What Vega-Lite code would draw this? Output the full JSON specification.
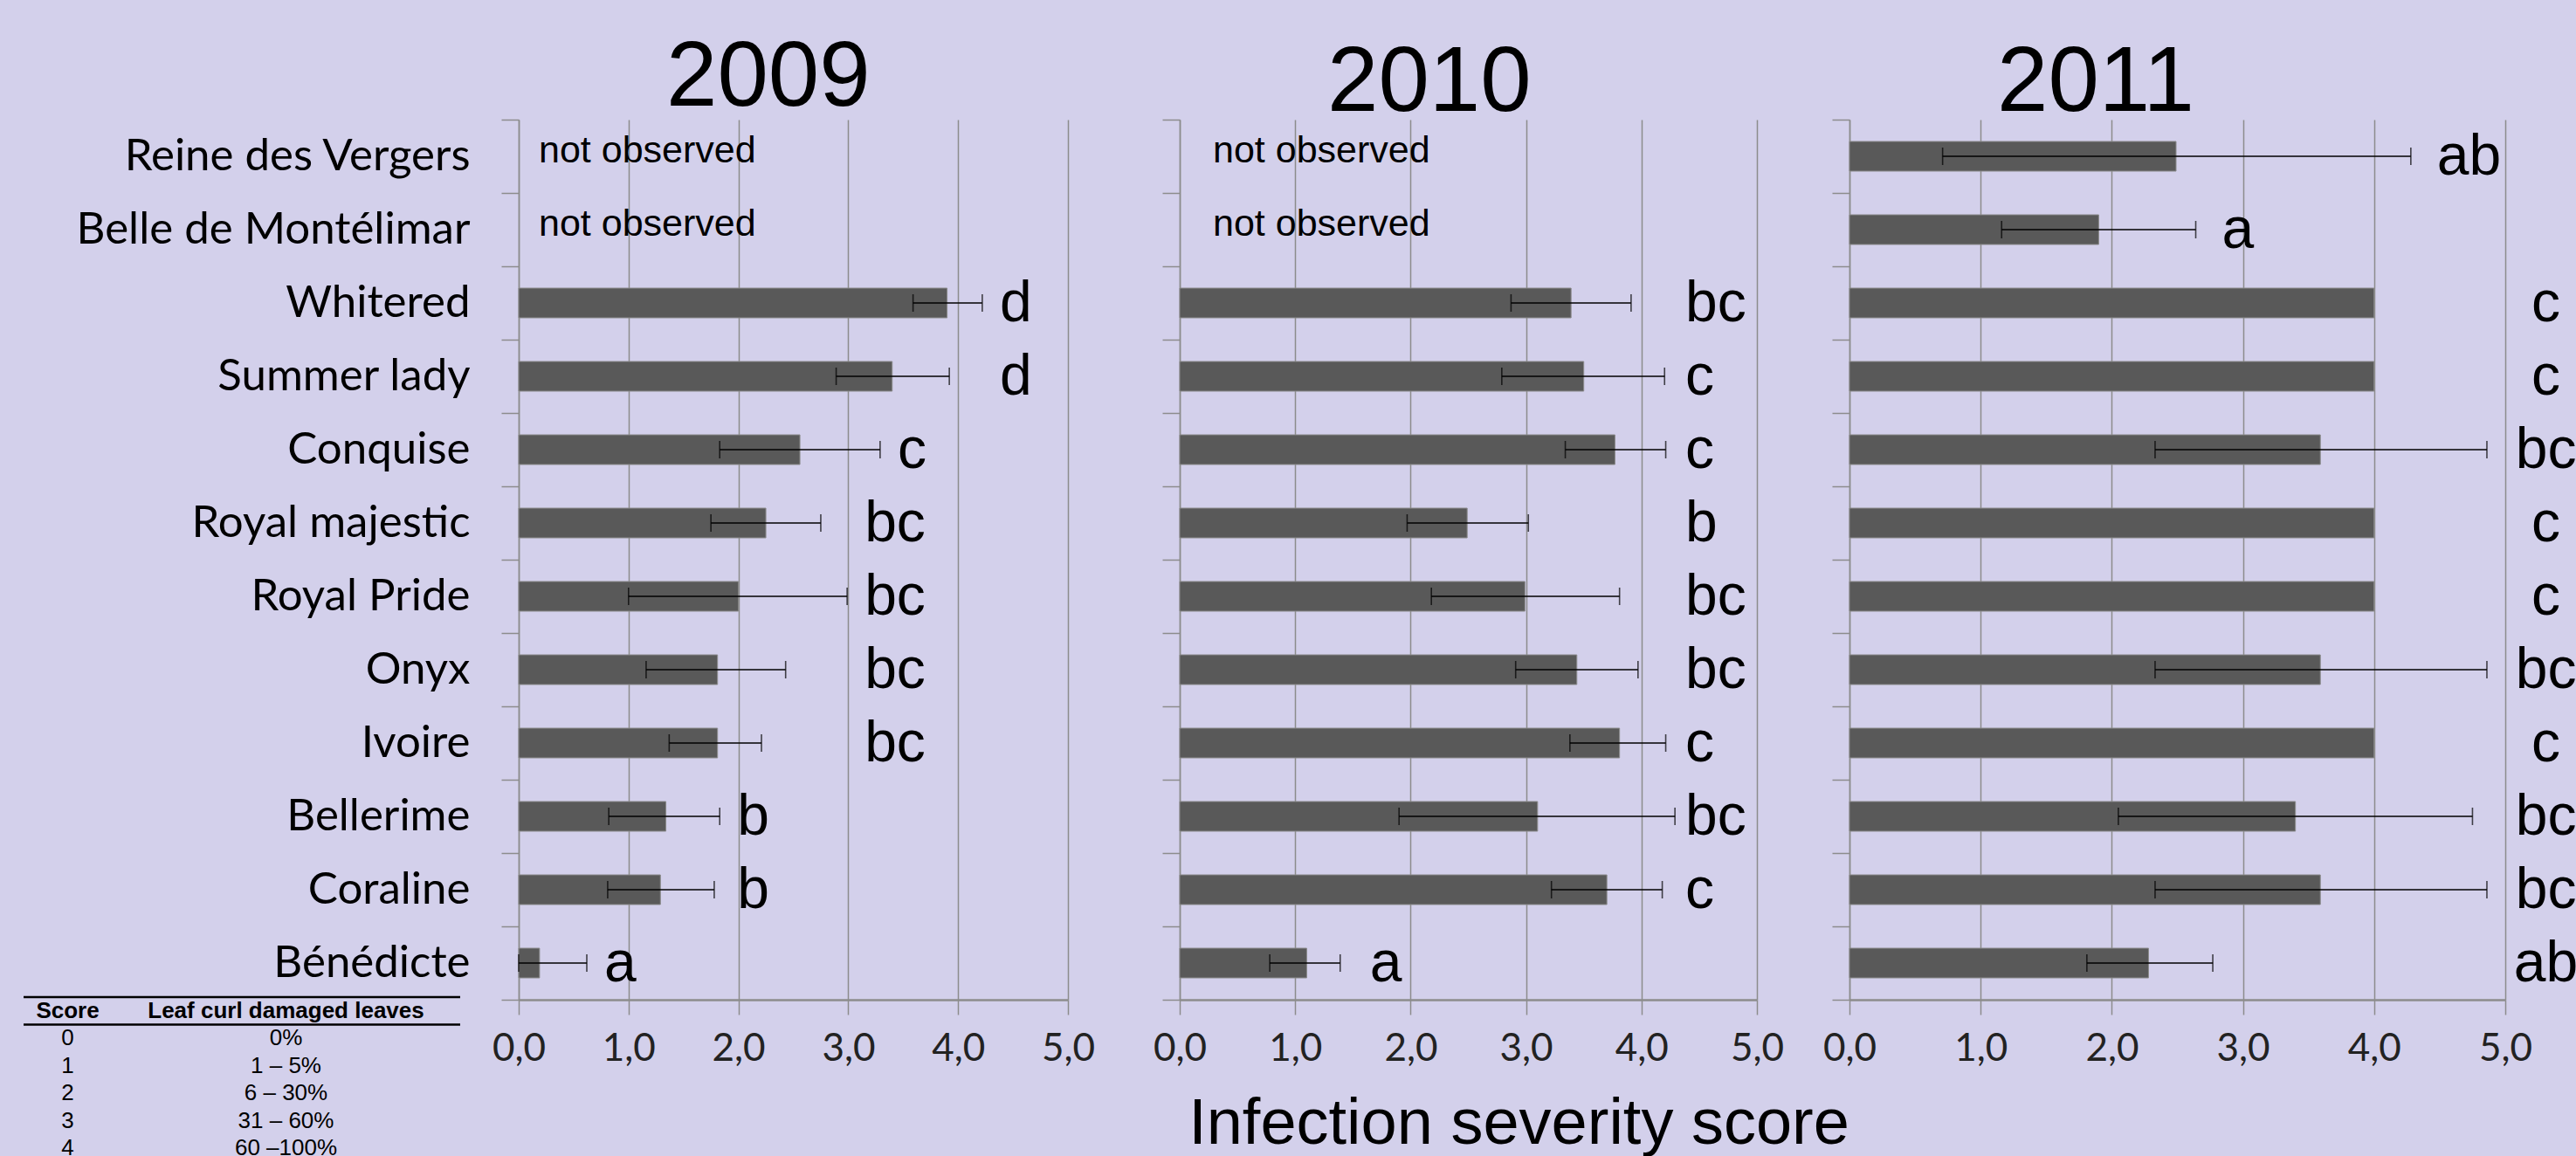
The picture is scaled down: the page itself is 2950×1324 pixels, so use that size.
{
  "$schema": "https://vega.github.io/schema/vega-lite/v6.json",
  "background": "#D3D0EB",
  "padding": {"left": 25, "top": 37, "right": 30, "bottom": 0},
  "autosize": {"type": "pad"},
  "bounds": "flush",
  "spacing": 67,
  "datasets": {
    "d": [
      {"year": 2009, "variety": "Reine des Vergers", "note": "not observed"},
      {"year": 2009, "variety": "Belle de Montélimar", "note": "not observed"},
      {"year": 2009, "variety": "Whitered", "mean": 3.90, "lo": 3.59, "hi": 4.22, "letter": "d"},
      {"year": 2009, "variety": "Summer lady", "mean": 3.40, "lo": 2.89, "hi": 3.92, "letter": "d"},
      {"year": 2009, "variety": "Conquise", "mean": 2.56, "lo": 1.83, "hi": 3.29, "letter": "c"},
      {"year": 2009, "variety": "Royal majestic", "mean": 2.25, "lo": 1.75, "hi": 2.75, "letter": "bc"},
      {"year": 2009, "variety": "Royal Pride", "mean": 2.00, "lo": 1.00, "hi": 2.99, "letter": "bc"},
      {"year": 2009, "variety": "Onyx", "mean": 1.81, "lo": 1.16, "hi": 2.43, "letter": "bc"},
      {"year": 2009, "variety": "Ivoire", "mean": 1.81, "lo": 1.37, "hi": 2.21, "letter": "bc"},
      {"year": 2009, "variety": "Bellerime", "mean": 1.34, "lo": 0.82, "hi": 1.83, "letter": "b"},
      {"year": 2009, "variety": "Coraline", "mean": 1.29, "lo": 0.81, "hi": 1.78, "letter": "b"},
      {"year": 2009, "variety": "Bénédicte", "mean": 0.19, "lo": 0.0, "hi": 0.62, "letter": "a"},
      {"year": 2010, "variety": "Reine des Vergers", "note": "not observed"},
      {"year": 2010, "variety": "Belle de Montélimar", "note": "not observed"},
      {"year": 2010, "variety": "Whitered", "mean": 3.39, "lo": 2.87, "hi": 3.91, "letter": "bc"},
      {"year": 2010, "variety": "Summer lady", "mean": 3.50, "lo": 2.79, "hi": 4.20, "letter": "c"},
      {"year": 2010, "variety": "Conquise", "mean": 3.77, "lo": 3.34, "hi": 4.21, "letter": "c"},
      {"year": 2010, "variety": "Royal majestic", "mean": 2.49, "lo": 1.97, "hi": 3.02, "letter": "b"},
      {"year": 2010, "variety": "Royal Pride", "mean": 2.99, "lo": 2.18, "hi": 3.81, "letter": "bc"},
      {"year": 2010, "variety": "Onyx", "mean": 3.44, "lo": 2.91, "hi": 3.97, "letter": "bc"},
      {"year": 2010, "variety": "Ivoire", "mean": 3.81, "lo": 3.38, "hi": 4.21, "letter": "c"},
      {"year": 2010, "variety": "Bellerime", "mean": 3.10, "lo": 1.90, "hi": 4.29, "letter": "bc"},
      {"year": 2010, "variety": "Coraline", "mean": 3.70, "lo": 3.22, "hi": 4.18, "letter": "c"},
      {"year": 2010, "variety": "Bénédicte", "mean": 1.10, "lo": 0.78, "hi": 1.39, "letter": "a"},
      {"year": 2011, "variety": "Reine des Vergers", "mean": 2.49, "lo": 0.71, "hi": 4.28, "letter": "ab"},
      {"year": 2011, "variety": "Belle de Montélimar", "mean": 1.90, "lo": 1.16, "hi": 2.64, "letter": "a"},
      {"year": 2011, "variety": "Whitered", "mean": 4.00, "letter": "c"},
      {"year": 2011, "variety": "Summer lady", "mean": 4.00, "letter": "c"},
      {"year": 2011, "variety": "Conquise", "mean": 3.59, "lo": 2.33, "hi": 4.86, "letter": "bc"},
      {"year": 2011, "variety": "Royal majestic", "mean": 4.00, "letter": "c"},
      {"year": 2011, "variety": "Royal Pride", "mean": 4.00, "letter": "c"},
      {"year": 2011, "variety": "Onyx", "mean": 3.59, "lo": 2.33, "hi": 4.86, "letter": "bc"},
      {"year": 2011, "variety": "Ivoire", "mean": 4.00, "letter": "c"},
      {"year": 2011, "variety": "Bellerime", "mean": 3.40, "lo": 2.05, "hi": 4.75, "letter": "bc"},
      {"year": 2011, "variety": "Coraline", "mean": 3.59, "lo": 2.33, "hi": 4.86, "letter": "bc"},
      {"year": 2011, "variety": "Bénédicte", "mean": 2.28, "lo": 1.81, "hi": 2.77, "letter": "ab"}
    ],
    "t": [
      {"row": "h", "c1": "Score", "c2": "Leaf curl damaged leaves"},
      {"row": "0", "c1": "0", "c2": "0%"},
      {"row": "1", "c1": "1", "c2": "1 – 5%"},
      {"row": "2", "c1": "2", "c2": "6 – 30%"},
      {"row": "3", "c1": "3", "c2": "31 – 60%"},
      {"row": "4", "c1": "4", "c2": "60 –100%"}
    ]
  },
  "data": {"name": "d"},
  "hconcat": [
    {
      "width": 500,
      "height": 1008,
      "data": {"name": "t"},
      "encoding": {
        "y": {"field": "row", "type": "nominal", "scale": {"type": "band", "domain": ["h", "0", "1", "2", "3", "4"], "range": [1005, 1194], "paddingInner": 0, "paddingOuter": 0}, "axis": null}
      },
      "layer": [
        {
          "transform": [{"filter": "datum.row == 'h' || datum.row == '0'"}],
          "mark": {"type": "rule", "color": "#000000", "strokeWidth": 2.5},
          "encoding": {"y": {"field": "row", "type": "nominal", "bandPosition": 0, "scale": {"type": "band", "domain": ["h", "0", "1", "2", "3", "4"], "range": [1005, 1194], "paddingInner": 0, "paddingOuter": 0}, "axis": null}}
        },
        {
          "transform": [{"filter": "datum.row == 'h'"}],
          "mark": {"type": "text", "font": "Liberation Sans", "fontSize": 26, "fontWeight": "bold", "baseline": "middle", "color": "#000000"},
          "encoding": {
            "x": {"datum": "Score", "type": "nominal", "scale": {"type": "point", "domain": ["Score", "Leaf curl damaged leaves"], "range": [50.5, 300.5], "padding": 0}, "axis": null},
            "text": {"field": "c1"}
          }
        },
        {
          "transform": [{"filter": "datum.row == 'h'"}],
          "mark": {"type": "text", "font": "Liberation Sans", "fontSize": 26, "fontWeight": "bold", "baseline": "middle", "color": "#000000"},
          "encoding": {
            "x": {"datum": "Leaf curl damaged leaves", "type": "nominal", "scale": {"type": "point", "domain": ["Score", "Leaf curl damaged leaves"], "range": [50.5, 300.5], "padding": 0}, "axis": null},
            "text": {"field": "c2"}
          }
        },
        {
          "transform": [{"filter": "datum.row != 'h'"}],
          "mark": {"type": "text", "font": "Liberation Sans", "fontSize": 26, "baseline": "middle", "color": "#000000"},
          "encoding": {
            "x": {"datum": "Score", "type": "nominal", "scale": {"type": "point", "domain": ["Score", "Leaf curl damaged leaves"], "range": [50.5, 300.5], "padding": 0}, "axis": null},
            "text": {"field": "c1"}
          }
        },
        {
          "transform": [{"filter": "datum.row != 'h'"}],
          "mark": {"type": "text", "font": "Liberation Sans", "fontSize": 26, "baseline": "middle", "color": "#000000"},
          "encoding": {
            "x": {"datum": "Leaf curl damaged leaves", "type": "nominal", "scale": {"type": "point", "domain": ["Score", "Leaf curl damaged leaves"], "range": [50.5, 300.5], "padding": 0}, "axis": null},
            "text": {"field": "c2"}
          }
        }
      ]
    },
    {
      "width": 690,
      "height": 1008,
      "transform": [{"filter": "datum.year == 2009"}],
      "title": {"text": "2009", "anchor": "start", "frame": "group", "dx": 169, "offset": -115, "baseline": "alphabetic", "fontSize": 105, "font": "Liberation Sans", "fontWeight": "normal", "color": "#000000"},
      "encoding": {
        "y": {"field": "variety", "type": "nominal", "sort": ["Reine des Vergers", "Belle de Montélimar", "Whitered", "Summer lady", "Conquise", "Royal majestic", "Royal Pride", "Onyx", "Ivoire", "Bellerime", "Coraline", "Bénédicte"],
          "scale": {"domain": ["Reine des Vergers", "Belle de Montélimar", "Whitered", "Summer lady", "Conquise", "Royal majestic", "Royal Pride", "Onyx", "Ivoire", "Bellerime", "Coraline", "Bénédicte"], "paddingInner": 0, "paddingOuter": 0},
          "axis": {"title": null, "labels": true, "labelLimit": 0, "labelFont": "Lato", "labelFontSize": 51, "labelColor": "#000000", "labelPadding": 36, "tickSize": 20, "tickBand": "extent", "tickColor": "#8C8C8C", "tickWidth": 1.5, "domainColor": "#8C8C8C", "domainWidth": 1.5, "grid": false}}
      },
      "layer": [
        {
          "mark": {"type": "bar", "size": 34, "color": "#595959", "stroke": "#8A8A8A", "strokeWidth": 1},
          "encoding": {
            "x": {"field": "mean", "type": "quantitative", "scale": {"domain": [0, 5], "range": [0, 629]},
              "axis": {"title": null, "values": [0, 1, 2, 3, 4, 5], "labelExpr": "replace(format(datum.value, '.1f'), '.', ',')", "grid": true, "gridColor": "#8C8C8C", "gridWidth": 1.5, "domainColor": "#8C8C8C", "domainWidth": 2.5, "tickColor": "#8C8C8C", "tickSize": 17, "tickWidth": 1.5, "labelFont": "Lato", "labelFontSize": 44, "labelColor": "#222222", "labelPadding": 17, "labelFlush": false, "labelOverlap": false}}
          }
        },
        {
          "mark": {"type": "rule", "color": "#000000", "strokeWidth": 1.6},
          "encoding": {
            "x": {"field": "lo", "type": "quantitative", "scale": {"domain": [0, 5], "range": [0, 629]}},
            "x2": {"field": "hi"}
          }
        },
        {
          "mark": {"type": "tick", "color": "#000000", "size": 20, "thickness": 1.6},
          "encoding": {"x": {"field": "lo", "type": "quantitative", "scale": {"domain": [0, 5], "range": [0, 629]}}}
        },
        {
          "mark": {"type": "tick", "color": "#000000", "size": 20, "thickness": 1.6},
          "encoding": {"x": {"field": "hi", "type": "quantitative", "scale": {"domain": [0, 5], "range": [0, 629]}}}
        },
        {
          "transform": [{"filter": "isValid(datum.note)"}],
          "mark": {"type": "text", "align": "left", "baseline": "alphabetic", "dx": 23, "dy": 7, "font": "Liberation Sans", "fontSize": 43, "color": "#000000"},
          "encoding": {
            "x": {"datum": 0, "type": "quantitative", "scale": {"domain": [0, 5], "range": [0, 629]}},
            "text": {"field": "note"}
          }
        },
        {
          "transform": [
            {"filter": "isValid(datum.letter)"},
            {"joinaggregate": [{"op": "max", "field": "hi", "as": "group_hi"}], "groupby": ["letter"]}
          ],
          "mark": {"type": "text", "align": "left", "baseline": "alphabetic", "dx": 20, "dy": 21, "font": "Liberation Sans", "fontSize": 66, "color": "#000000"},
          "encoding": {
            "x": {"field": "group_hi", "type": "quantitative", "scale": {"domain": [0, 5], "range": [0, 629]}},
            "text": {"field": "letter"}
          }
        }
      ]
    },
    {
      "width": 700,
      "height": 1008,
      "transform": [{"filter": "datum.year == 2010"}],
      "title": {"text": "2010", "anchor": "start", "frame": "group", "dx": 169, "offset": -96, "baseline": "alphabetic", "fontSize": 105, "font": "Liberation Sans", "fontWeight": "normal", "color": "#000000"},
      "encoding": {
        "y": {"field": "variety", "type": "nominal", "sort": ["Reine des Vergers", "Belle de Montélimar", "Whitered", "Summer lady", "Conquise", "Royal majestic", "Royal Pride", "Onyx", "Ivoire", "Bellerime", "Coraline", "Bénédicte"],
          "scale": {"domain": ["Reine des Vergers", "Belle de Montélimar", "Whitered", "Summer lady", "Conquise", "Royal majestic", "Royal Pride", "Onyx", "Ivoire", "Bellerime", "Coraline", "Bénédicte"], "paddingInner": 0, "paddingOuter": 0},
          "axis": {"title": null, "labels": false, "tickSize": 20, "tickBand": "extent", "tickColor": "#8C8C8C", "tickWidth": 1.5, "domainColor": "#8C8C8C", "domainWidth": 1.5, "grid": false}}
      },
      "layer": [
        {
          "mark": {"type": "bar", "size": 34, "color": "#595959", "stroke": "#8A8A8A", "strokeWidth": 1},
          "encoding": {
            "x": {"field": "mean", "type": "quantitative", "scale": {"domain": [0, 5], "range": [0, 661]},
              "axis": {"title": "Infection severity score", "titleFont": "Liberation Sans", "titleFontSize": 74, "titleFontWeight": "normal", "titleColor": "#000000", "titleX": 388, "titleY": 164, "titleBaseline": "alphabetic", "titleAlign": "center", "values": [0, 1, 2, 3, 4, 5], "labelExpr": "replace(format(datum.value, '.1f'), '.', ',')", "grid": true, "gridColor": "#8C8C8C", "gridWidth": 1.5, "domainColor": "#8C8C8C", "domainWidth": 2.5, "tickColor": "#8C8C8C", "tickSize": 17, "tickWidth": 1.5, "labelFont": "Lato", "labelFontSize": 44, "labelColor": "#222222", "labelPadding": 17, "labelFlush": false, "labelOverlap": false}}
          }
        },
        {
          "mark": {"type": "rule", "color": "#000000", "strokeWidth": 1.6},
          "encoding": {
            "x": {"field": "lo", "type": "quantitative", "scale": {"domain": [0, 5], "range": [0, 661]}},
            "x2": {"field": "hi"}
          }
        },
        {
          "mark": {"type": "tick", "color": "#000000", "size": 20, "thickness": 1.6},
          "encoding": {"x": {"field": "lo", "type": "quantitative", "scale": {"domain": [0, 5], "range": [0, 661]}}}
        },
        {
          "mark": {"type": "tick", "color": "#000000", "size": 20, "thickness": 1.6},
          "encoding": {"x": {"field": "hi", "type": "quantitative", "scale": {"domain": [0, 5], "range": [0, 661]}}}
        },
        {
          "transform": [{"filter": "isValid(datum.note)"}],
          "mark": {"type": "text", "align": "left", "baseline": "alphabetic", "dx": 38, "dy": 7, "font": "Liberation Sans", "fontSize": 43, "color": "#000000"},
          "encoding": {
            "x": {"datum": 0, "type": "quantitative", "scale": {"domain": [0, 5], "range": [0, 661]}},
            "text": {"field": "note"}
          }
        },
        {
          "transform": [{"filter": "isValid(datum.letter) && datum.hi >= 2"}],
          "mark": {"type": "text", "align": "left", "baseline": "alphabetic", "dy": 21, "font": "Liberation Sans", "fontSize": 66, "color": "#000000"},
          "encoding": {
            "x": {"datum": 4.38, "type": "quantitative", "scale": {"domain": [0, 5], "range": [0, 661]}},
            "text": {"field": "letter"}
          }
        },
        {
          "transform": [{"filter": "isValid(datum.letter) && datum.hi < 2"}],
          "mark": {"type": "text", "align": "left", "baseline": "alphabetic", "dx": 34, "dy": 21, "font": "Liberation Sans", "fontSize": 66, "color": "#000000"},
          "encoding": {
            "x": {"field": "hi", "type": "quantitative", "scale": {"domain": [0, 5], "range": [0, 661]}},
            "text": {"field": "letter"}
          }
        }
      ]
    },
    {
      "width": 751,
      "height": 1008,
      "transform": [{"filter": "datum.year == 2011"}],
      "title": {"text": "2011", "anchor": "start", "frame": "group", "dx": 169, "offset": -96, "baseline": "alphabetic", "fontSize": 105, "font": "Liberation Sans", "fontWeight": "normal", "color": "#000000"},
      "encoding": {
        "y": {"field": "variety", "type": "nominal", "sort": ["Reine des Vergers", "Belle de Montélimar", "Whitered", "Summer lady", "Conquise", "Royal majestic", "Royal Pride", "Onyx", "Ivoire", "Bellerime", "Coraline", "Bénédicte"],
          "scale": {"domain": ["Reine des Vergers", "Belle de Montélimar", "Whitered", "Summer lady", "Conquise", "Royal majestic", "Royal Pride", "Onyx", "Ivoire", "Bellerime", "Coraline", "Bénédicte"], "paddingInner": 0, "paddingOuter": 0},
          "axis": {"title": null, "labels": false, "tickSize": 20, "tickBand": "extent", "tickColor": "#8C8C8C", "tickWidth": 1.5, "domainColor": "#8C8C8C", "domainWidth": 1.5, "grid": false}}
      },
      "layer": [
        {
          "mark": {"type": "bar", "size": 34, "color": "#595959", "stroke": "#8A8A8A", "strokeWidth": 1},
          "encoding": {
            "x": {"field": "mean", "type": "quantitative", "scale": {"domain": [0, 5], "range": [0, 751]},
              "axis": {"title": null, "values": [0, 1, 2, 3, 4, 5], "labelExpr": "replace(format(datum.value, '.1f'), '.', ',')", "grid": true, "gridColor": "#8C8C8C", "gridWidth": 1.5, "domainColor": "#8C8C8C", "domainWidth": 2.5, "tickColor": "#8C8C8C", "tickSize": 17, "tickWidth": 1.5, "labelFont": "Lato", "labelFontSize": 44, "labelColor": "#222222", "labelPadding": 17, "labelFlush": false, "labelOverlap": false}}
          }
        },
        {
          "mark": {"type": "rule", "color": "#000000", "strokeWidth": 1.6},
          "encoding": {
            "x": {"field": "lo", "type": "quantitative", "scale": {"domain": [0, 5], "range": [0, 751]}},
            "x2": {"field": "hi"}
          }
        },
        {
          "mark": {"type": "tick", "color": "#000000", "size": 20, "thickness": 1.6},
          "encoding": {"x": {"field": "lo", "type": "quantitative", "scale": {"domain": [0, 5], "range": [0, 751]}}}
        },
        {
          "mark": {"type": "tick", "color": "#000000", "size": 20, "thickness": 1.6},
          "encoding": {"x": {"field": "hi", "type": "quantitative", "scale": {"domain": [0, 5], "range": [0, 751]}}}
        },
        {
          "transform": [{"filter": "isValid(datum.letter) && datum.variety != 'Reine des Vergers' && datum.variety != 'Belle de Montélimar'"}],
          "mark": {"type": "text", "align": "center", "baseline": "alphabetic", "dy": 21, "font": "Liberation Sans", "fontSize": 66, "color": "#000000"},
          "encoding": {
            "x": {"datum": 5.31, "type": "quantitative", "scale": {"domain": [0, 5], "range": [0, 751]}},
            "text": {"field": "letter"}
          }
        },
        {
          "transform": [{"filter": "isValid(datum.letter) && (datum.variety == 'Reine des Vergers' || datum.variety == 'Belle de Montélimar')"}],
          "mark": {"type": "text", "align": "left", "baseline": "alphabetic", "dx": 30, "dy": 21, "font": "Liberation Sans", "fontSize": 66, "color": "#000000"},
          "encoding": {
            "x": {"field": "hi", "type": "quantitative", "scale": {"domain": [0, 5], "range": [0, 751]}},
            "text": {"field": "letter"}
          }
        }
      ]
    }
  ],
  "config": {
    "view": {"stroke": null},
    "font": "Liberation Sans"
  }
}
